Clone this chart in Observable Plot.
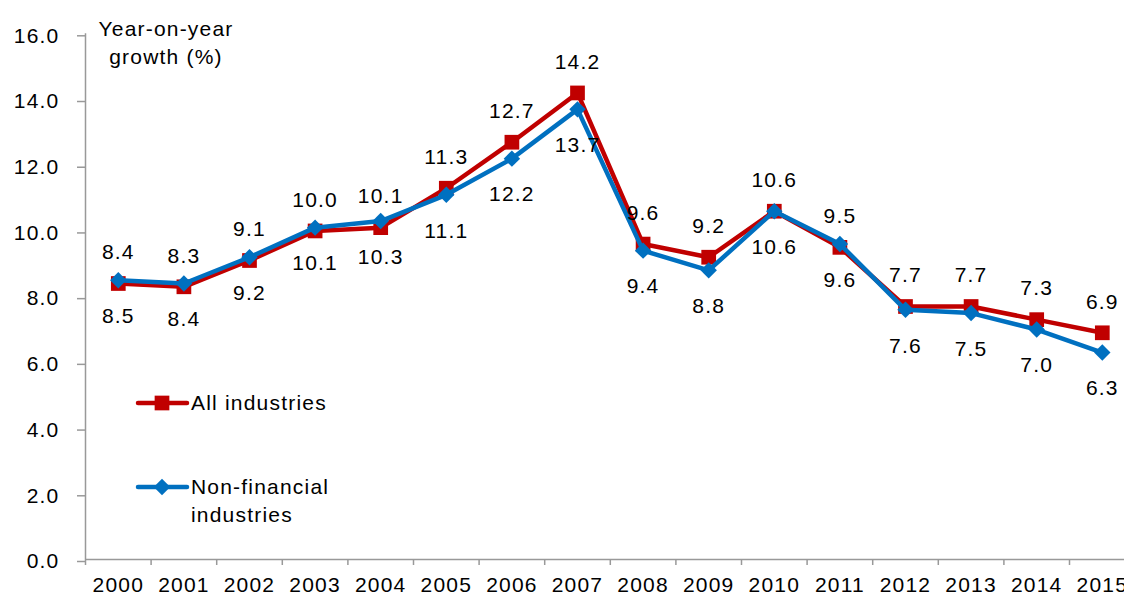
<!DOCTYPE html>
<html>
<head>
<meta charset="utf-8">
<script src="https://cdn.jsdelivr.net/npm/d3@7"></script>
<script src="https://cdn.jsdelivr.net/npm/@observablehq/plot@0.6"></script>
<style>
  html, body { margin: 0; padding: 0; background: #fff; }
  svg text { letter-spacing: 1.2px; }
</style>
</head>
<body>
<div id="chart"></div>
<script>
const years = [2000, 2001, 2002, 2003, 2004, 2005, 2006, 2007, 2008, 2009, 2010, 2011, 2012, 2013, 2014, 2015];
const allIndustries = [8.4, 8.3, 9.1, 10.0, 10.1, 11.3, 12.7, 14.2, 9.6, 9.2, 10.6, 9.5, 7.7, 7.7, 7.3, 6.9];
const nonFinancial = [8.5, 8.4, 9.2, 10.1, 10.3, 11.1, 12.2, 13.7, 9.4, 8.8, 10.6, 9.6, 7.6, 7.5, 7.0, 6.3];
const yTicks = [0, 2, 4, 6, 8, 10, 12, 14, 16];
const seriesNames = ["All industries", "Non-financial industries"];
const titleLines = ["Year-on-year", "growth (%)"];

const red = "#C00000";
const blue = "#0070C0";
const axisGray = "#999999";

const allData = years.map((year, i) => ({year, value: allIndustries[i]}));
const nfData = years.map((year, i) => ({year, value: nonFinancial[i]}));
const bounds = [...years.map(y => y - 0.5), years[years.length - 1] + 0.5];

const chart = Plot.plot({
  width: 1124,
  height: 597,
  marginLeft: 85,
  marginRight: 0,
  marginTop: 33,
  marginBottom: 38,
  style: {fontFamily: "'Liberation Sans', Arial, sans-serif", fontSize: "21px", color: "#000", background: "#fff"},
  x: {domain: [1999.5, 2015.5], range: [85, 1134.6]},
  y: {domain: [0, 16], range: [559, 33.3]},
  marks: [
    Plot.ruleX([1999.5], {y1: 0, y2: 16, stroke: axisGray, strokeWidth: 1.5}),
    Plot.axisY({ticks: yTicks, tickSize: 8, tickPadding: 18, stroke: axisGray, strokeWidth: 1.5, fill: "#000", tickFormat: d => d.toFixed(1), dy: 2, label: null}),
    Plot.axisX({ticks: bounds, tickSize: 6, stroke: axisGray, strokeWidth: 1.5, tickFormat: () => "", label: null}),
    Plot.axisX({ticks: years, tickSize: 0, tickPadding: 18, fill: "#000", tickFormat: d => String(d), label: null}),
    Plot.ruleY([0], {stroke: axisGray, strokeWidth: 1.5}),
    Plot.line(allData, {x: "year", y: "value", stroke: red, strokeWidth: 4.5}),
    Plot.dot(allData, {x: "year", y: "value", symbol: "square", r: 8.3, fill: red, stroke: "none"}),
    Plot.line(nfData, {x: "year", y: "value", stroke: blue, strokeWidth: 4.5}),
    Plot.dot(nfData, {x: "year", y: "value", symbol: "diamond2", r: 7.4, fill: blue, stroke: "none"}),
    Plot.text(allData, {x: "year", y: "value", text: d => d.value.toFixed(1), dy: -31, fill: "#000"}),
    Plot.text(nfData, {x: "year", y: "value", text: d => d.value.toFixed(1), dy: 36, fill: "#000"})
  ]
});

document.getElementById("chart").appendChild(chart);

// Title and legend as overlay annotations
const svg = d3.select(chart);
const g = svg.append("g").attr("font-family", "'Liberation Sans', Arial, sans-serif").attr("font-size", 21).attr("fill", "#000");
g.append("text").attr("x", 166).attr("y", 36).attr("text-anchor", "middle").text(titleLines[0]);
g.append("text").attr("x", 166).attr("y", 64).attr("text-anchor", "middle").text(titleLines[1]);

// legend: All industries
const l1 = g.append("g");
l1.append("line").attr("x1", 138).attr("x2", 187).attr("y1", 403).attr("y2", 403).attr("stroke", red).attr("stroke-width", 4.5).attr("stroke-linecap", "round");
l1.append("path").attr("transform", "translate(162,403)").attr("d", d3.symbol(d3.symbolSquare, 8.3 * 8.3 * Math.PI)()).attr("fill", red);
l1.append("text").attr("x", 191).attr("y", 403).attr("dy", "0.35em").attr("text-anchor", "start").text(seriesNames[0]);

// legend: Non-financial industries
const l2 = g.append("g");
l2.append("line").attr("x1", 138).attr("x2", 187).attr("y1", 487).attr("y2", 487).attr("stroke", blue).attr("stroke-width", 4.5).attr("stroke-linecap", "round");
l2.append("path").attr("transform", "translate(162,487)").attr("d", d3.symbol(d3.symbolDiamond2, 7.4 * 7.4 * Math.PI)()).attr("fill", blue);
l2.append("text").attr("x", 191).attr("y", 487).attr("dy", "0.35em").attr("text-anchor", "start").text("Non-financial");
l2.append("text").attr("x", 191).attr("y", 515).attr("dy", "0.35em").attr("text-anchor", "start").text("industries");
</script>
</body>
</html>
